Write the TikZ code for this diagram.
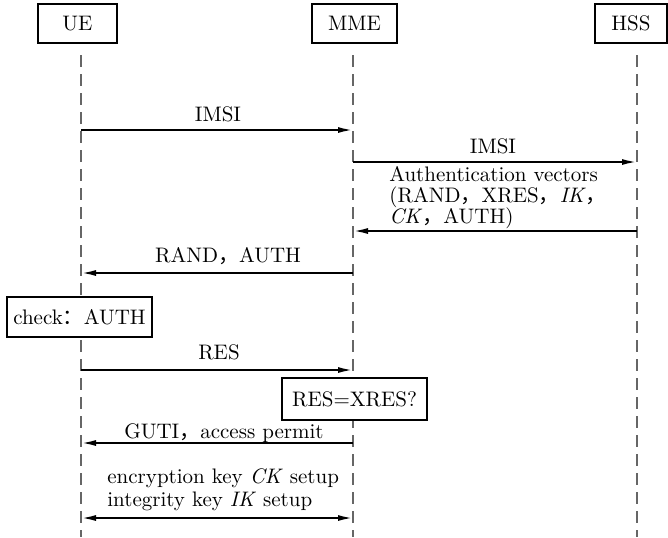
\documentclass[tikz,border=0pt]{standalone}
\usepackage{fontspec}
\newfontfamily\cjkfont{Noto Sans CJK SC}
\usetikzlibrary{arrows.meta}
% full-width punctuation
\newcommand\fc{{\cjkfont ，}}
\newcommand\fcolon{{\cjkfont ：}}
\begin{document}
\begin{tikzpicture}[x=0.5pt,y=-0.5pt,
  font=\fontsize{10.5}{11.5}\selectfont,
  entity/.style={draw, line width=1pt, fill=white, minimum height=19.5pt, inner sep=0pt},
  lifeline/.style={draw=black!60, line width=0.7pt, dash pattern=on 6pt off 3.5pt},
  msg/.style={line width=1pt, -{Latex[length=7.5pt,width=3pt]}},
  bimsg/.style={line width=1pt, {Latex[length=7.5pt,width=3pt]}-{Latex[length=7.5pt,width=3pt]}},
  lbl/.style={inner sep=0pt, anchor=base}]
\useasboundingbox (0,0) rectangle (668,537);

% participants
\node[entity, minimum width=39.5pt] (ue)  at (77.5,23.5) {UE};
\node[entity, minimum width=42.5pt] (mme) at (354.5,23.5) {MME};
\node[entity, minimum width=36pt]   (hss) at (631,23.5) {HSS};

% lifelines
\coordinate (ueT) at (81,55);   \coordinate (ueB) at (81,537);
\coordinate (mmeT) at (353,55); \coordinate (mmeB) at (353,537);
\coordinate (hssT) at (637,55); \coordinate (hssB) at (637,537);
\draw[lifeline] (ueT) -- (ueB);
\draw[lifeline] (mmeT) -- (mmeB);
\draw[lifeline] (hssT) -- (hssB);

% message end points on the lifelines
\coordinate (u1) at (81,130);  \coordinate (m1) at (353,130);
\coordinate (m2) at (353,162); \coordinate (h2) at (637,162);
\coordinate (h3) at (637,231); \coordinate (m3) at (353,231);
\coordinate (m4) at (353,273); \coordinate (u4) at (81,273);
\coordinate (u5) at (81,370);  \coordinate (m5) at (353,370);
\coordinate (m6) at (353,443); \coordinate (u6) at (81,443);
\coordinate (u7) at (81,518);  \coordinate (m7) at (353,518);

% messages
\draw[msg] (u1) -- (m1);
\node[lbl] (l1) at (218,121) {IMSI};

\draw[msg] (m2) -- (h2);
\node[lbl] (l2) at (493,153) {IMSI};

\draw[msg] (h3) -- (m3);
% multi-line labels: the base anchor sits on the last line
\node[inner sep=0pt, anchor=base west, align=left,
      font=\fontsize{10.5}{10.5}\selectfont] (l3) at (389,223)
  {Authentication vectors\\(RAND\fc XRES\fc \textit{IK}\fc\\\textit{CK}\fc AUTH)};

\draw[msg] (m4) -- (u4);
\node[lbl] (l4) at (228,262) {RAND\fc AUTH};

\node[entity, minimum width=72.5pt, minimum height=20pt] (chk) at (79.5,317) {check\fcolon AUTH};

\draw[msg] (u5) -- (m5);
\node[lbl] (l5) at (219,359) {RES};

\node[entity, minimum width=72.5pt, minimum height=21pt] (cmp) at (354.5,399) {RES=XRES?};

\draw[msg] (m6) -- (u6);
\node[lbl] (l6) at (224,438) {GUTI\fc access permit};

\draw[bimsg] (u7) -- (m7);
\node[inner sep=0pt, anchor=base west, align=left] (l7) at (107,506)
  {encryption key \textit{CK} setup\\integrity key \textit{IK} setup};
\end{tikzpicture}
\end{document}
